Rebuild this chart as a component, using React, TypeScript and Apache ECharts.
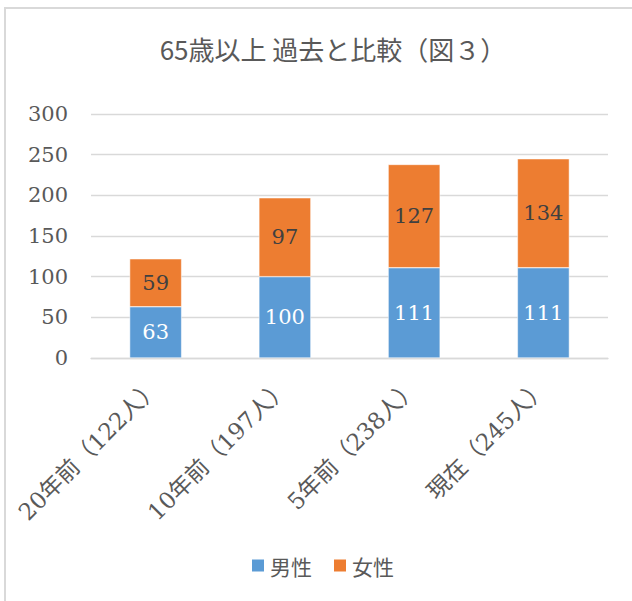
import React, { useEffect, useRef } from "react";
import * as echarts from "echarts";

const categories = ["20年前（122人）", "10年前（197人）", "5年前（238人）", "現在（245人）"];
const maleValues = [63, 100, 111, 111];
const femaleValues = [59, 97, 127, 134];
const seriesNames = ["男性", "女性"];
const titleText = "65歳以上 過去と比較（図３）";

const SERIF = "'DejaVu Serif', 'Noto Sans CJK JP', serif";
const SANS = "'Noto Sans CJK JP', 'Noto Sans', sans-serif";

export default function App() {
  const ref = useRef<HTMLDivElement>(null);
  useEffect(() => {
    if (!ref.current) return;
    const chart = echarts.init(ref.current, null, { renderer: "svg" });
    chart.setOption({
      animation: false,
      backgroundColor: "#ffffff",
      title: {
        text: titleText,
        left: 328,
        top: 30,
        textAlign: "center",
        textStyle: { fontFamily: SANS, fontSize: 26, fontWeight: "normal", color: "#595959" },
      },
      legend: {
        data: seriesNames,
        left: 245,
        top: 550,
        icon: "rect",
        itemWidth: 14,
        itemHeight: 14,
        itemGap: 20,
        textStyle: { fontFamily: SANS, fontSize: 21, color: "#595959" },
      },
      graphic: [
        {
          type: "rect",
          shape: { x: 5, y: 8, width: 700, height: 700 },
          style: { fill: "none", stroke: "#D9D9D9", lineWidth: 2 },
          silent: true,
        },
      ],
      grid: { left: 91, right: 24, top: 114, bottom: 243 },
      xAxis: {
        type: "category",
        data: categories,
        axisTick: { show: false },
        axisLine: { show: true, lineStyle: { color: "#D9D9D9", width: 1.3 } },
        axisLabel: {
          interval: 0,
          rotate: 45,
          margin: 25,
          fontFamily: SERIF,
          fontSize: 23,
          color: "#595959",
        },
      },
      yAxis: {
        type: "value",
        min: 0,
        max: 300,
        interval: 50,
        axisLine: { show: false },
        axisTick: { show: false },
        splitLine: { lineStyle: { color: "#D9D9D9", width: 1.3 } },
        axisLabel: { fontFamily: SERIF, fontSize: 21, color: "#595959", margin: 23 },
      },
      series: [
        {
          name: seriesNames[0],
          type: "bar",
          stack: "total",
          data: maleValues,
          barWidth: 52,
          itemStyle: { color: "#5B9BD5", borderColor: "#ffffff", borderWidth: 0.5 },
          label: { show: true, position: "inside", fontFamily: SERIF, fontSize: 21, color: "#ffffff" },
        },
        {
          name: seriesNames[1],
          type: "bar",
          stack: "total",
          data: femaleValues,
          barWidth: 52,
          itemStyle: { color: "#ED7D31", borderColor: "#ffffff", borderWidth: 0.5 },
          label: { show: true, position: "inside", fontFamily: SERIF, fontSize: 21, color: "#404040" },
        },
      ],
    });
    return () => chart.dispose();
  }, []);
  return (
    <div
      ref={ref}
      style={{ position: "fixed", left: 0, top: 0, width: 632, height: 601, background: "#fff" }}
    />
  );
}
